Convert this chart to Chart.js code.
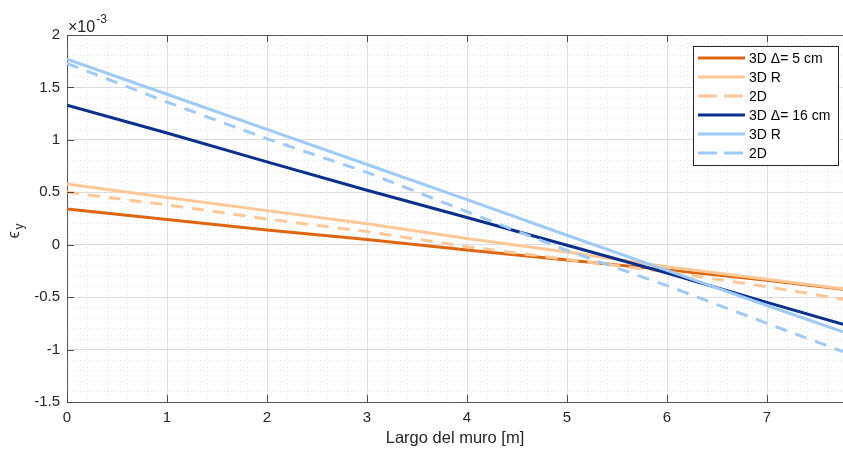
<!DOCTYPE html>
<html><head><meta charset="utf-8">
<script src="https://cdn.jsdelivr.net/npm/chart.js@4.4.1/dist/chart.umd.min.js"></script>
<style>html,body{margin:0;padding:0;background:#fff;overflow:hidden}#wrap{width:843px;height:451px;position:relative}</style>
</head><body><div id="wrap"><canvas id="c" width="843" height="451"></canvas></div>
<script>
// ---- data (strain values shown in units of 1e-3) ----
const xValues = [0, 1, 2, 3, 4, 5, 6, 7, 7.76];
const seriesLabels = ['3D \u0394= 5 cm', '3D R', '2D', '3D \u0394= 16 cm', '3D R', '2D'];
const d5_3D  = [0.34, 0.24, 0.14, 0.05, -0.05, -0.145, -0.24, -0.34, -0.425];
const d5_R   = [0.58, 0.45, 0.325, 0.20, 0.06, -0.07, -0.21, -0.33, -0.42];
const d5_2D  = [0.50, 0.38, 0.245, 0.125, -0.02, -0.14, -0.26, -0.40, -0.52];
const d16_3D = [1.33, 1.065, 0.79, 0.52, 0.26, -0.005, -0.27, -0.55, -0.76];
const d16_R  = [1.77, 1.435, 1.10, 0.765, 0.43, 0.09, -0.245, -0.58, -0.83];
const d16_2D = [1.73, 1.36, 1.01, 0.69, 0.315, -0.055, -0.39, -0.75, -1.02];
const xTickValues = [0, 1, 2, 3, 4, 5, 6, 7];
const xTickLabels = ['0', '1', '2', '3', '4', '5', '6', '7'];
const yTickValues = [-1.5, -1, -0.5, 0, 0.5, 1, 1.5, 2];
const yTickLabels = ['-1.5', '-1', '-0.5', '0', '0.5', '1', '1.5', '2'];
const xAxisTitle = 'Largo del muro [m]';
const yAxisSymbol = '\u03f5';
const yAxisSub = 'y';
const exponentBase = '\u00d710';
const exponentPow = '-3';

const FONT = '"Liberation Sans", Arial, Helvetica, sans-serif';
const C_D5 = '#DF6510', C_D5L = '#FDC896', C_D16 = '#0A308C', C_D16L = '#9ECAF7';
const DASH = [12, 9];

const seriesData = [d5_3D, d5_R, d5_2D, d16_3D, d16_R, d16_2D];
const seriesColors = [C_D5, C_D5L, C_D5L, C_D16, C_D16L, C_D16L];
const seriesDashed = [false, false, true, false, false, true];

const datasets = seriesData.map((arr, i) => ({
  label: seriesLabels[i],
  data: xValues.map((x, k) => ({x: x, y: arr[k]})),
  borderColor: seriesColors[i],
  backgroundColor: seriesColors[i],
  borderWidth: 3,
  borderDash: seriesDashed[i] ? DASH : [],
  pointRadius: 0,
  fill: false,
  tension: 0,
  order: seriesData.length - 1 - i
}));

const near = (a, b) => Math.abs(a - b) < 1e-6;
const isMajor = (vals, v) => vals.some(m => near(m, v));
const X_MIN = 0, X_MAX = 7.76, Y_MIN = -1.5, Y_MAX = 2;

const decorPlugin = {
  id: 'decor',
  afterDraw(chart) {
    const ctx = chart.ctx, a = chart.chartArea;
    const xs = chart.scales.x, ys = chart.scales.y;
    ctx.save();
    ctx.strokeStyle = '#4a4a4a'; ctx.lineWidth = 1;
    ctx.beginPath();
    xTickValues.forEach(v => {
      const px = Math.round(xs.getPixelForValue(v)) + 0.5;
      ctx.moveTo(px, a.bottom); ctx.lineTo(px, a.bottom - 7);
      ctx.moveTo(px, a.top); ctx.lineTo(px, a.top + 7);
    });
    yTickValues.forEach(v => {
      const py = Math.round(ys.getPixelForValue(v)) + 0.5;
      ctx.moveTo(a.left, py); ctx.lineTo(a.left + 7, py);
    });
    ctx.stroke();
    ctx.fillStyle = '#262626';
    ctx.textAlign = 'left'; ctx.textBaseline = 'alphabetic';
    ctx.font = '16px ' + FONT;
    ctx.fillText(exponentBase, a.left + 1, a.top - 3);
    const w = ctx.measureText(exponentBase).width;
    ctx.font = '12px ' + FONT;
    ctx.fillText(exponentPow, a.left + 1 + w + 1, a.top - 12);
    ctx.translate(19, (a.top + a.bottom) / 2 + 12);
    ctx.rotate(-Math.PI / 2);
    ctx.font = '17px ' + FONT;
    ctx.fillText(yAxisSymbol, -8, 0);
    ctx.font = '12px ' + FONT;
    ctx.fillText(yAxisSub, 1, 4);
    ctx.restore();
  }
};

const legendPlugin = {
  id: 'boxLegend',
  afterDraw(chart) {
    const ctx = chart.ctx;
    const x0 = 693, y0 = 46, w = 145, h = 119, row = 19, first = 58;
    ctx.save();
    ctx.fillStyle = '#ffffff';
    ctx.fillRect(x0, y0, w, h);
    ctx.strokeStyle = '#262626'; ctx.lineWidth = 1;
    ctx.strokeRect(x0 + 0.5, y0 + 0.5, w, h);
    chart.data.datasets.forEach((ds, i) => {
      const y = first + i * row;
      ctx.strokeStyle = ds.borderColor; ctx.lineWidth = 3;
      ctx.setLineDash(ds.borderDash && ds.borderDash.length ? [19, 7] : []);
      ctx.beginPath(); ctx.moveTo(698, y); ctx.lineTo(745, y); ctx.stroke();
      ctx.setLineDash([]);
      ctx.fillStyle = '#000000';
      ctx.font = '14px ' + FONT;
      ctx.textAlign = 'left'; ctx.textBaseline = 'middle';
      ctx.fillText(ds.label, 749, y + 1);
    });
    ctx.restore();
  }
};

const gridColor = (vals) => (c) => (c.tick && isMajor(vals, c.tick.value)) ? '#dddddd' : '#e2e2e2';
const gridDash = (vals) => (c) => (c.tick && !isMajor(vals, c.tick.value)) ? [1, 3] : [];

new Chart(document.getElementById('c'), {
  type: 'line',
  data: { datasets: datasets },
  options: {
    responsive: false,
    devicePixelRatio: 1,
    animation: false,
    layout: { padding: { top: 35, right: 0, bottom: 0, left: 0 } },
    plugins: { legend: { display: false }, tooltip: { enabled: false } },
    scales: {
      x: {
        type: 'linear', position: 'bottom', min: X_MIN, max: X_MAX,
        afterBuildTicks: s => { const t = []; for (let i = 0; i * 0.2 <= X_MAX + 1e-9; i++) t.push({ value: Math.round(i * 2) / 10 }); s.ticks = t; },
        afterFit: s => { s.height = 49; },
        ticks: {
          autoSkip: false, maxRotation: 0, padding: 7, color: '#262626',
          font: { family: FONT, size: 15 },
          callback: (v) => { const k = xTickValues.findIndex(m => near(m, v)); return k >= 0 ? xTickLabels[k] : ''; }
        },
        grid: { color: gridColor(xTickValues), lineWidth: 1, drawTicks: false },
        border: { display: true, color: '#5a5a5a', width: 1, dash: gridDash(xTickValues) },
        title: { display: true, text: xAxisTitle, color: '#262626', font: { family: FONT, size: 16.5 }, padding: { top: 0, bottom: 3 } }
      },
      x2: {
        type: 'linear', position: 'top', min: X_MIN, max: X_MAX,
        afterFit: s => { s.height = 0; },
        ticks: { display: false },
        grid: { display: false, drawTicks: false },
        border: { display: true, color: '#5a5a5a', width: 1 }
      },
      y: {
        type: 'linear', position: 'left', min: Y_MIN, max: Y_MAX,
        afterBuildTicks: s => { const t = []; for (let i = -15; i <= 20; i++) t.push({ value: i / 10 }); s.ticks = t; },
        afterFit: s => { s.width = 67; },
        ticks: {
          autoSkip: false, padding: 7, color: '#262626',
          font: { family: FONT, size: 15 },
          callback: (v) => { const k = yTickValues.findIndex(m => near(m, v)); return k >= 0 ? yTickLabels[k] : ''; }
        },
        grid: { color: gridColor(yTickValues), lineWidth: 1, drawTicks: false },
        border: { display: true, color: '#5a5a5a', width: 1, dash: gridDash(yTickValues) }
      }
    }
  },
  plugins: [decorPlugin, legendPlugin]
});
</script></body></html>
